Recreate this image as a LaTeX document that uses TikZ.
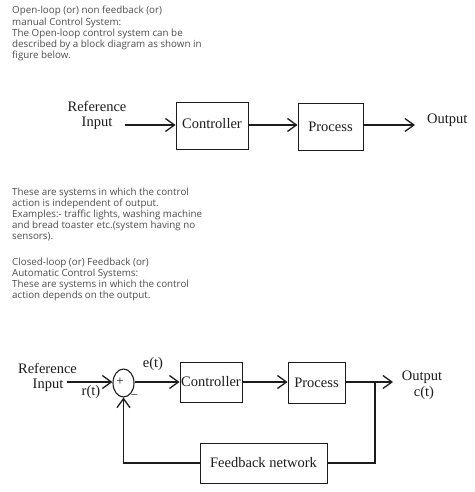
\documentclass[tikz,border=0pt]{standalone}
\usepackage{fontspec}
\setmainfont{Liberation Serif}
\newfontfamily\parafont{Open Sans}
\usetikzlibrary{arrows.meta,shapes.geometric}
\definecolor{paragray}{HTML}{4D4D4D}
\definecolor{ink}{HTML}{1C1C1C}
\tikzset{
  para/.style={anchor=base west,inner sep=0pt,text=paragray,
    font=\parafont\fontsize{9.8}{11}\selectfont},
  blk/.style={draw=ink,line width=0.9pt,inner sep=1pt,text=ink,
    font=\fontsize{14.5}{16}\selectfont},
  lbl/.style={inner sep=0pt,text=ink,font=\fontsize{14.5}{16}\selectfont},
  sgn/.style={inner sep=0pt,text=ink,font=\fontsize{13}{13}\selectfont},
  arr/.style={draw=ink,line width=1.3pt,-{Straight Barb[length=9pt,width=13pt,line width=1.3pt]}},
  ln/.style={draw=ink,line width=1.2pt},
  sumj/.style={ellipse,draw=ink,line width=1.1pt,minimum width=21pt,minimum height=28pt,inner sep=0pt}
}
\begin{document}
\begin{tikzpicture}[x=1pt,y=-1pt]
\useasboundingbox (0,0) rectangle (474,492);
% paragraphs
\node[para] (p1a) at (12,14) {Open-loop (or) non feedback (or)};
\node[para] (p1b) at (12,25.2) {manual Control System:};
\node[para] (p1c) at (12,36.4) {The Open-loop control system can be};
\node[para] (p1d) at (12,47.6) {described by a block diagram as shown in};
\node[para] (p1e) at (12,58.8) {figure below.};
\node[para] (p2a) at (12,195) {These are systems in which the control};
\node[para] (p2b) at (12,206.2) {action is independent of output.};
\node[para] (p2c) at (12,217.4) {Examples:- traffic lights, washing machine};
\node[para] (p2d) at (12,228.6) {and bread toaster etc.(system having no};
\node[para] (p2e) at (12,239.8) {sensors).};
\node[para] (p3a) at (12,265) {Closed-loop (or) Feedback (or)};
\node[para] (p3b) at (12,276.2) {Automatic Control Systems:};
\node[para] (p3c) at (12,287.4) {These are systems in which the control};
\node[para] (p3d) at (12,298.6) {action depends on the output.};
% open loop
\node[lbl] (oref) at (97,106) {Reference};
\node[lbl] (oinp) at (97,123) {Input};
\coordinate (ostart) at (125,125);
\node[blk,minimum width=72pt,minimum height=47pt] (octrl) at (212,125.5) {\raisebox{5pt}{Controller}};
\node[blk,minimum width=65pt,minimum height=47pt] (oproc) at (330.5,126.5) {Process};
\coordinate (oend) at (415,125);
\node[lbl,anchor=west] (oout) at (427,120) {Output};
\draw[arr] (ostart) -- (ostart -| octrl.west);
\draw[arr] (octrl.east |- 0,125) -- (oproc.west |- 0,125);
\draw[arr] (oproc.east |- 0,125) -- (oend);
% closed loop
\node[lbl] (cref) at (47.5,368) {Reference};
\node[lbl] (cinp) at (48,385) {Input};
\coordinate (cstart) at (67,382);
\node[sumj] (sum) at (123.5,383) {};
\node[sgn] (plus) at (120,382) {+};
\node[sgn] (minus) at (134.5,397) {\textminus};
\node[lbl] (rt) at (91,392) {r(t)};
\node[lbl] (et) at (153,364) {e(t)};
\node[blk,minimum width=62pt,minimum height=40pt] (cctrl) at (211,382) {Controller};
\node[blk,minimum width=57pt,minimum height=41pt] (cproc) at (316.5,382.5) {Process};
\coordinate (brch) at (375,382);
\coordinate (cend) at (393,382);
\node[lbl] (cout) at (422,377) {Output};
\node[lbl] (ct) at (424,393) {c(t)};
\node[blk,minimum width=127pt,minimum height=40pt] (fb) at (263.5,463) {Feedback network};
\draw[arr] (cstart) -- (sum.west |- cstart);
\draw[arr] (sum.east |- cstart) -- (cctrl.west |- cstart);
\draw[arr] (cctrl.east |- cstart) -- (cproc.west |- cstart);
\draw[arr] (cproc.east |- cstart) -- (cend);
\draw[ln] (brch) |- (fb.east);
\draw[arr] (fb.west) -| (sum.south);
\end{tikzpicture}
\end{document}
